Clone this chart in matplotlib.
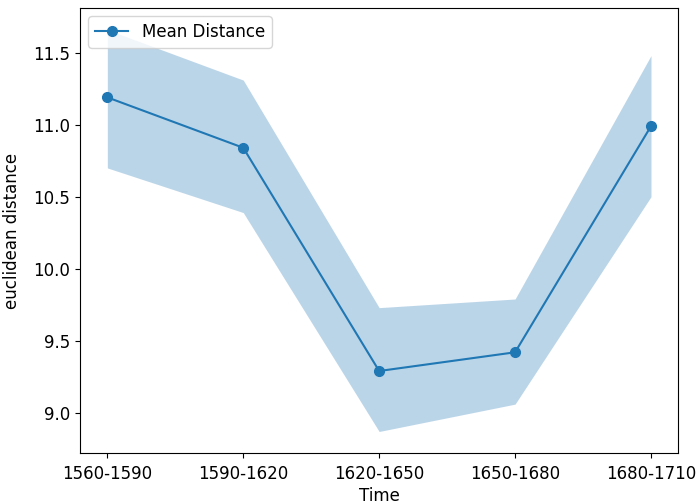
import matplotlib
matplotlib.use('Agg')
import matplotlib.pyplot as plt
import numpy as np

periods = ['1560-1590', '1590-1620', '1620-1650', '1650-1680', '1680-1710']
mean_dist = [11.19, 10.84, 9.29, 9.42, 10.99]
upper = [11.66, 11.31, 9.73, 9.79, 11.48]
lower = [10.70, 10.39, 8.87, 9.06, 10.50]

plt.rcParams['font.size'] = 12

fig, ax = plt.subplots(figsize=(6.97, 5.04), dpi=100)
fig.subplots_adjust(left=0.115, right=0.973, bottom=0.101, top=0.984)

x = np.arange(len(periods))
ax.plot(x, mean_dist, marker='o', markersize=7, color='C0', label='Mean Distance')
ax.fill_between(x, lower, upper, color='C0', alpha=0.3, linewidth=0)

ax.set_xticks(x)
ax.set_xticklabels(periods)
ax.tick_params(axis='x', pad=5)
ax.set_ylim(8.72, 11.81)
ax.set_xlabel('Time', labelpad=3)
ax.set_ylabel('euclidean distance', labelpad=9)
ax.legend(loc='upper left')

plt.savefig('out.png')
